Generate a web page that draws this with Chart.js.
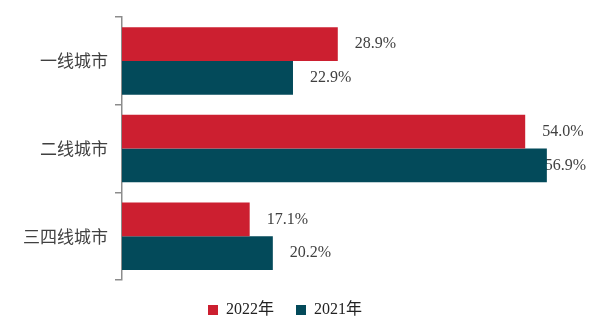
<!DOCTYPE html>
<html lang="zh">
<head>
    <meta charset="UTF-8">
    <title>城市分布</title>
    <style>
        html, body { margin: 0; padding: 0; background: #fff; }
        #wrap { width: 600px; height: 328px; }
    </style>
</head>
<body>
    <div id="wrap"><canvas id="cityChart"></canvas></div>

    <script src="https://cdn.jsdelivr.net/npm/chart.js"></script>
    <script>
        const categories = ['一线城市', '二线城市', '三四线城市'];
        const seriesNames = ['2022年', '2021年'];
        const values2022 = [28.9, 54.0, 17.1];
        const values2021 = [22.9, 56.9, 20.2];
        const colors = ['#cc1f30', '#034a5a'];

        const fontFamily = '"Liberation Serif", "Times New Roman", "Noto Sans CJK SC", serif';

        // draws the percentage labels behind the bars, like the original
        const valueLabels = {
            id: 'valueLabels',
            beforeDatasetsDraw(chart) {
                const ctx = chart.ctx;
                ctx.save();
                ctx.font = '16px ' + fontFamily;
                ctx.fillStyle = '#404040';
                ctx.textBaseline = 'middle';
                ctx.textAlign = 'left';
                chart.data.datasets.forEach((ds, i) => {
                    chart.getDatasetMeta(i).data.forEach((bar, j) => {
                        const txt = ds.data[j].toFixed(1) + '%';
                        let x = bar.x + 17;
                        const w = ctx.measureText(txt).width;
                        if (x + w > chart.width - 14) x = chart.width - 14 - w;
                        ctx.fillText(txt, x, bar.y);
                    });
                });
                ctx.restore();
            }
        };

        // keep the legend box a fixed height so the plot ends where the original does
        const legendHeight = {
            id: 'legendHeight',
            beforeLayout(chart) {
                const lg = chart.legend;
                if (lg && !lg._patched) {
                    const fit = lg.fit.bind(lg);
                    lg.fit = function () { fit(); this.height = 48; };
                    lg._patched = true;
                }
            }
        };

        new Chart(document.getElementById('cityChart'), {
            type: 'bar',
            data: {
                labels: categories,
                datasets: [
                    { label: seriesNames[0], data: values2022, backgroundColor: colors[0] },
                    { label: seriesNames[1], data: values2021, backgroundColor: colors[1] }
                ]
            },
            options: {
                indexAxis: 'y',
                responsive: true,
                maintainAspectRatio: false,
                animation: false,
                categoryPercentage: 0.77,
                barPercentage: 1,
                layout: { padding: { top: 14, right: 30, left: 0, bottom: 0 } },
                scales: {
                    x: { display: false, min: 0, max: 60 },
                    y: {
                        offset: true,
                        afterFit: (s) => { s.width = 122; },
                        grid: {
                            offset: true,
                            drawOnChartArea: false,
                            drawTicks: true,
                            tickLength: 7,
                            color: '#8c8c8c',
                            lineWidth: 1.5
                        },
                        border: { display: true, color: '#8c8c8c', width: 1.5 },
                        ticks: {
                            color: '#404040',
                            padding: 7,
                            font: { family: '"Noto Sans CJK SC", serif', size: 17 }
                        }
                    }
                },
                plugins: {
                    legend: {
                        position: 'bottom',
                        labels: {
                            boxWidth: 10,
                            boxHeight: 10,
                            padding: 22,
                            color: '#222',
                            font: { family: fontFamily, size: 16 }
                        }
                    },
                    tooltip: { enabled: false }
                }
            },
            plugins: [valueLabels, legendHeight]
        });
    </script>
</body>
</html>
